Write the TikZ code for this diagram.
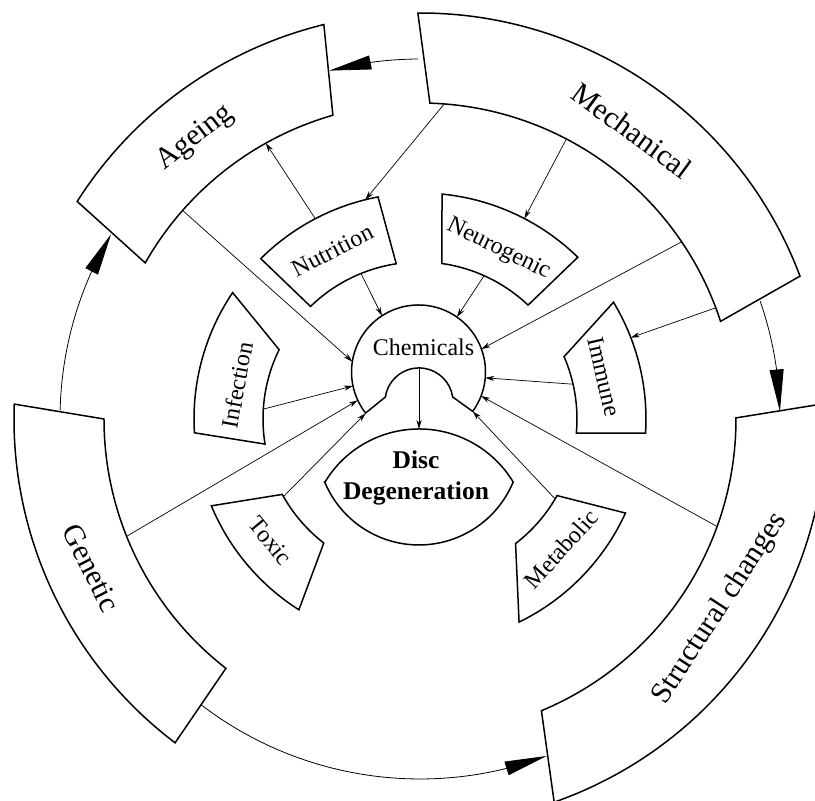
\documentclass[tikz,border=0pt]{standalone}
\usepackage{fontspec}
\setmainfont{Liberation Serif}
\usetikzlibrary{arrows.meta}
\usetikzlibrary{bending}

\begin{document}
\begin{tikzpicture}[x=0.5pt,y=0.5pt,
  seg/.style={draw=black,line width=0.75pt,fill=white},
  conn/.style={line width=0.35pt,-{Stealth[length=4.5pt,width=2.6pt]}},
  bigarrow/.style={line width=0.4pt,-{Triangle[length=21pt,width=7pt]}},
  outerlbl/.style={font=\fontsize{15}{18}\selectfont},
  innerlbl/.style={font=\fontsize{12}{14}\selectfont}]
\useasboundingbox (-420,-382) rectangle (395,419);
\clip (-420,-382) rectangle (395,419);

% outer ring
\draw[seg] (103.7:406) arc[start angle=103.7,end angle=147.6,radius=406] -- (150.4:316) arc[start angle=150.4,end angle=106,radius=316] -- cycle;
\draw[seg] (20.6:406) arc[start angle=20.6,end angle=90.3,radius=406] -- (88.2:316) arc[start angle=88.2,end angle=18,radius=316] -- cycle;
\draw[seg] (-70.7:406) arc[start angle=-70.7,end angle=2.2,radius=406] -- (0.2:316) arc[start angle=0.2,end angle=-67.4,radius=316] -- cycle;
\draw[seg] (177.9:406) arc[start angle=177.9,end angle=232.9,radius=406] -- (232.1:316) arc[start angle=232.1,end angle=180,radius=316] -- cycle;
\node[outerlbl,rotate=38] (ageing) at (128.7:360) {Ageing};
\node[outerlbl,rotate=-36.3] (mechanical) at (53.7:358) {Mechanical};
\node[outerlbl,rotate=57] (structural) at (-32.3:355) {Structural changes};
\node[outerlbl,rotate=-63] (genetic) at (204.4:361) {Genetic};

% inner ring
\draw[seg] (100.7:226) arc[start angle=100.7,end angle=134.8,radius=226] -- (134.2:157) arc[start angle=134.2,end angle=98.7,radius=157] -- cycle;
\draw[seg] (45.7:226) arc[start angle=45.7,end angle=84.4,radius=226] -- (82:157) arc[start angle=82,end angle=46.5,radius=157] -- cycle;
\draw[seg] (-3.6:226) arc[start angle=-3.6,end angle=31.1,radius=226] -- (23.4:157) arc[start angle=23.4,end angle=-5.2,radius=157] -- cycle;
\draw[seg] (-64:226) arc[start angle=-64,end angle=-24.6,radius=226] -- (-29.2:157) arc[start angle=-29.2,end angle=-52.5,radius=157] -- cycle;
\draw[seg] (202.6:226) arc[start angle=202.6,end angle=237.6,radius=226] -- (232.2:157) arc[start angle=232.2,end angle=208.7,radius=157] -- cycle;
\draw[seg] (146:226) arc[start angle=146,end angle=183.5,radius=226] -- (189.2:157) arc[start angle=189.2,end angle=153.8,radius=157] -- cycle;
\node[innerlbl,rotate=27] (nutrition) at (117.5:190) {Nutrition};
\node[innerlbl,rotate=-26] (neurogenic) at (65.2:187) {Neurogenic};
\node[innerlbl,rotate=-77] (immune) at (12.9:189) {Immune};
\node[innerlbl,rotate=48] (metabolic) at (-42.6:192) {Metabolic};
\node[innerlbl,rotate=-50.5] (toxic) at (219.2:193) {Toxic};
\node[innerlbl,rotate=79.5] (infection) at (169.5:186) {Infection};

% centre
\node[circle,minimum size=67pt,inner sep=0pt,outer sep=0pt] (chem) at (-1.5,47) {};
\draw[line width=0.75pt] (chem.-36) arc[start angle=-36,end angle=217.8,radius=67] -- (-34.6,22) arc[start angle=171.6,end angle=8.4,radius=34] -- cycle;
\node[innerlbl] (chemicals) at (3.5,72) {Chemicals};
\draw[line width=0.75pt] (-95,-63) arc[start angle=148.8,end angle=31.2,radius=110] arc[start angle=-22.5,end angle=-157.5,radius=102] -- cycle;
\node[font=\fontsize{12.75}{15.5}\selectfont\bfseries,align=center] (disc) at (-4,-59) {Disc\\Degeneration};

% connector ends
\coordinate (mech-nut) at (85.6:316);  \coordinate (nut-top) at (104:226);
\coordinate (mech-neu) at (62.4:316);  \coordinate (neu-top) at (62.5:226);
\coordinate (mech-chem) at (34.1:316);
\coordinate (mech-imm) at (20.6:316);  \coordinate (imm-top) at (21.1:226);
\coordinate (age-chem) at (138.7:316);
\coordinate (nut-age) at (117.6:226);  \coordinate (age-bot) at (119.2:316);
\coordinate (nut-chem) at (112.1:157);
\coordinate (neu-chem) at (65.9:157);
\coordinate (imm-chem) at (12.8:157);
\coordinate (inf-chem) at (176.4:157);
\coordinate (gen-chem) at (201.8:316);
\coordinate (tox-chem) at (209.6:157);
\coordinate (met-chem) at (-30.6:157);
\coordinate (str-chem) at (-19.9:316);
\coordinate (chem-out) at (-1,51);     \coordinate (disc-top) at (-1,-10);

\draw[conn] (mech-nut) -- (nut-top);
\draw[conn] (mech-neu) -- (neu-top);
\draw[conn] (mech-chem) -- (chem.20.6);
\draw[conn] (mech-imm) -- (imm-top);
\draw[conn] (age-chem) -- (chem.171);
\draw[conn] (nut-age) -- (age-bot);
\draw[conn] (nut-chem) -- (chem.123);
\draw[conn] (neu-chem) -- (chem.55.3);
\draw[conn] (imm-chem) -- (chem.-5.9);
\draw[conn] (inf-chem) -- (chem.192.4);
\draw[conn] (gen-chem) -- (chem.205.3);
\draw[conn] (tox-chem) -- (chem.218.5);
\draw[conn] (met-chem) -- (chem.-36.5);
\draw[conn] (str-chem) -- (chem.-21.8);
\draw[conn] (chem-out) -- (disc-top);

% big arrows round the outer ring
\coordinate (mech-age) at (90.3:360);
\coordinate (gen-age) at (178.6:360);
\coordinate (mech-str) at (19.1:360);
\coordinate (gen-str) at (232.6:360);
\draw[bigarrow] (mech-age) arc[start angle=90.3,end angle=104.6,radius=360];
\draw[bigarrow] (gen-age) arc[start angle=178.6,end angle=149.1,radius=360];
\draw[bigarrow] (mech-str) arc[start angle=19.1,end angle=1.2,radius=360];
\draw[bigarrow] (gen-str) arc[start angle=232.6,end angle=290.6,radius=360];

\end{tikzpicture}
\end{document}
